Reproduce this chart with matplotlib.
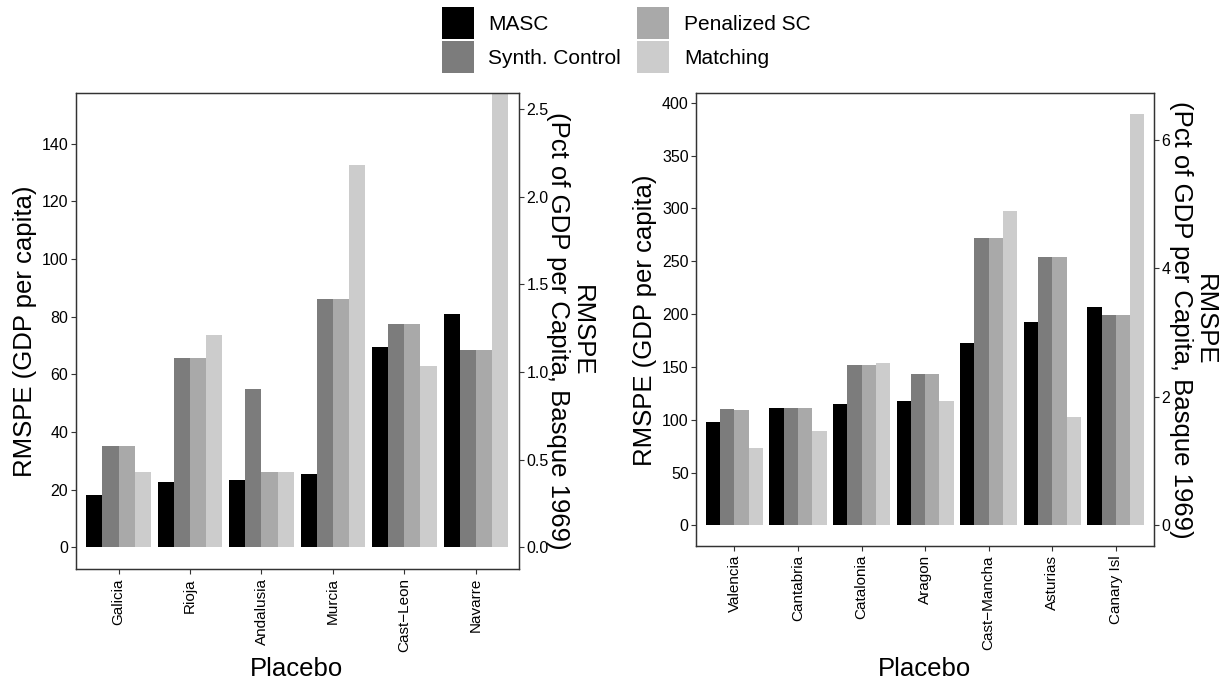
import numpy as np
import matplotlib
matplotlib.use("Agg")
import matplotlib.pyplot as plt

plt.rcParams['font.family'] = ['Liberation Sans', 'DejaVu Sans']

# Data
methods = ["MASC", "Synth. Control", "Penalized SC", "Matching"]
colors = ["#000000", "#7c7c7c", "#a9a9a9", "#cccccc"]

left_regions = ["Galicia", "Rioja", "Andalusia", "Murcia", "Cast\u2212Leon", "Navarre"]
left_masc = [18.3, 22.8, 23.5, 25.3, 69.4, 80.9]
left_sc = [35.3, 65.6, 55.0, 86.0, 77.4, 68.4]
left_pen = [35.3, 65.6, 26.3, 86.0, 77.4, 68.4]
left_match = [26.3, 73.6, 26.3, 132.7, 62.8, 175.0]

right_regions = ["Valencia", "Cantabria", "Catalonia", "Aragon", "Cast\u2212Mancha", "Asturias", "Canary Isl"]
right_masc = [98.3, 111.5, 115.3, 118.0, 173.0, 192.8, 207.0]
right_sc = [110.6, 111.5, 152.0, 143.6, 272.0, 254.0, 199.4]
right_pen = [109.6, 111.5, 152.0, 143.6, 272.0, 254.0, 199.4]
right_match = [73.4, 89.8, 154.0, 118.0, 297.6, 103.0, 389.3]

pct_factor = 60.8  # GDP per capita units per 1 pct of Basque 1969 GDP

W, H = 1228, 685
fig = plt.figure(figsize=(W / 100, H / 100), dpi=100)


def px(x0, y0, x1, y1):
    return [x0 / W, 1 - y1 / H, (x1 - x0) / W, (y1 - y0) / H]


def panel(rect, regions, series, ylim, yticks, sec_ticks, sec_fmt):
    ax = fig.add_axes(rect)
    x = np.arange(len(regions))
    bw = 0.225
    bars = []
    for j, vals in enumerate(series):
        b = ax.bar(x + (j - 1.5) * bw, vals, width=bw, color=colors[j],
                   linewidth=0, label=methods[j])
        bars.append(b)
    ax.set_xlim(-0.6, len(regions) - 0.4)
    ax.set_ylim(*ylim)
    ax.set_yticks(yticks)
    ax.set_xticks(x)
    ax.set_xticklabels(regions, rotation=90, fontsize=11)
    ax.tick_params(axis='y', labelsize=11.5, length=3.5, width=0.8,
                   color='#333333', pad=2)
    ax.tick_params(axis='x', length=3.5, width=0.8, color='#333333', pad=3)
    for s in ax.spines.values():
        s.set_color('#333333')
        s.set_linewidth(0.9)
    ax2 = ax.twinx()
    ax2.set_ylim(ylim[0] / pct_factor, ylim[1] / pct_factor)
    ax2.set_yticks(sec_ticks)
    ax2.set_yticklabels([sec_fmt % t for t in sec_ticks])
    ax2.tick_params(axis='y', labelsize=11.5, length=3.5, width=0.8,
                    color='#333333', pad=2)
    for s in ax2.spines.values():
        s.set_color('#333333')
        s.set_linewidth(0.9)
    return ax, bars


axL, bars = panel(px(75.7, 93.3, 518.7, 569), left_regions,
                  [left_masc, left_sc, left_pen, left_match],
                  (-7.5, 157.5), [0, 20, 40, 60, 80, 100, 120, 140],
                  [0, 0.5, 1.0, 1.5, 2.0, 2.5], "%.1f")
axR, _ = panel(px(696.3, 93.3, 1154, 546), right_regions,
               [right_masc, right_sc, right_pen, right_match],
               (-19.5, 409), [0, 50, 100, 150, 200, 250, 300, 350, 400],
               [0, 2, 4, 6], "%d")

title_fs = 18.5
sec_label = "RMSPE\n(Pct of GDP per Capita, Basque 1969)"
fig.text(25 / W, 1 - 331 / H, "RMSPE (GDP per capita)", rotation=90,
         ha='center', va='center', fontsize=title_fs)
fig.text(645 / W, 1 - 320 / H, "RMSPE (GDP per capita)", rotation=90,
         ha='center', va='center', fontsize=title_fs)
fig.text(570 / W, 1 - 331 / H, sec_label, rotation=270, ha='center',
         va='center', multialignment='center', fontsize=title_fs,
         linespacing=0.95)
fig.text(1193 / W, 1 - 320 / H, sec_label, rotation=270, ha='center',
         va='center', multialignment='center', fontsize=title_fs,
         linespacing=0.95)
fig.text(297 / W, 1 - 669 / H, "Placebo", ha='center', va='center',
         fontsize=title_fs)
fig.text(925 / W, 1 - 669 / H, "Placebo", ha='center', va='center',
         fontsize=title_fs)

fig.legend(handles=bars, labels=methods, ncol=2, loc='upper center',
           bbox_to_anchor=(626 / W, 1 - 7 / H), frameon=False, fontsize=15,
           handlelength=1.55, handleheight=2.0, labelspacing=0.1,
           handletextpad=0.7, columnspacing=0.75, borderpad=0,
           borderaxespad=0)

fig.savefig("out.png", dpi=100)
